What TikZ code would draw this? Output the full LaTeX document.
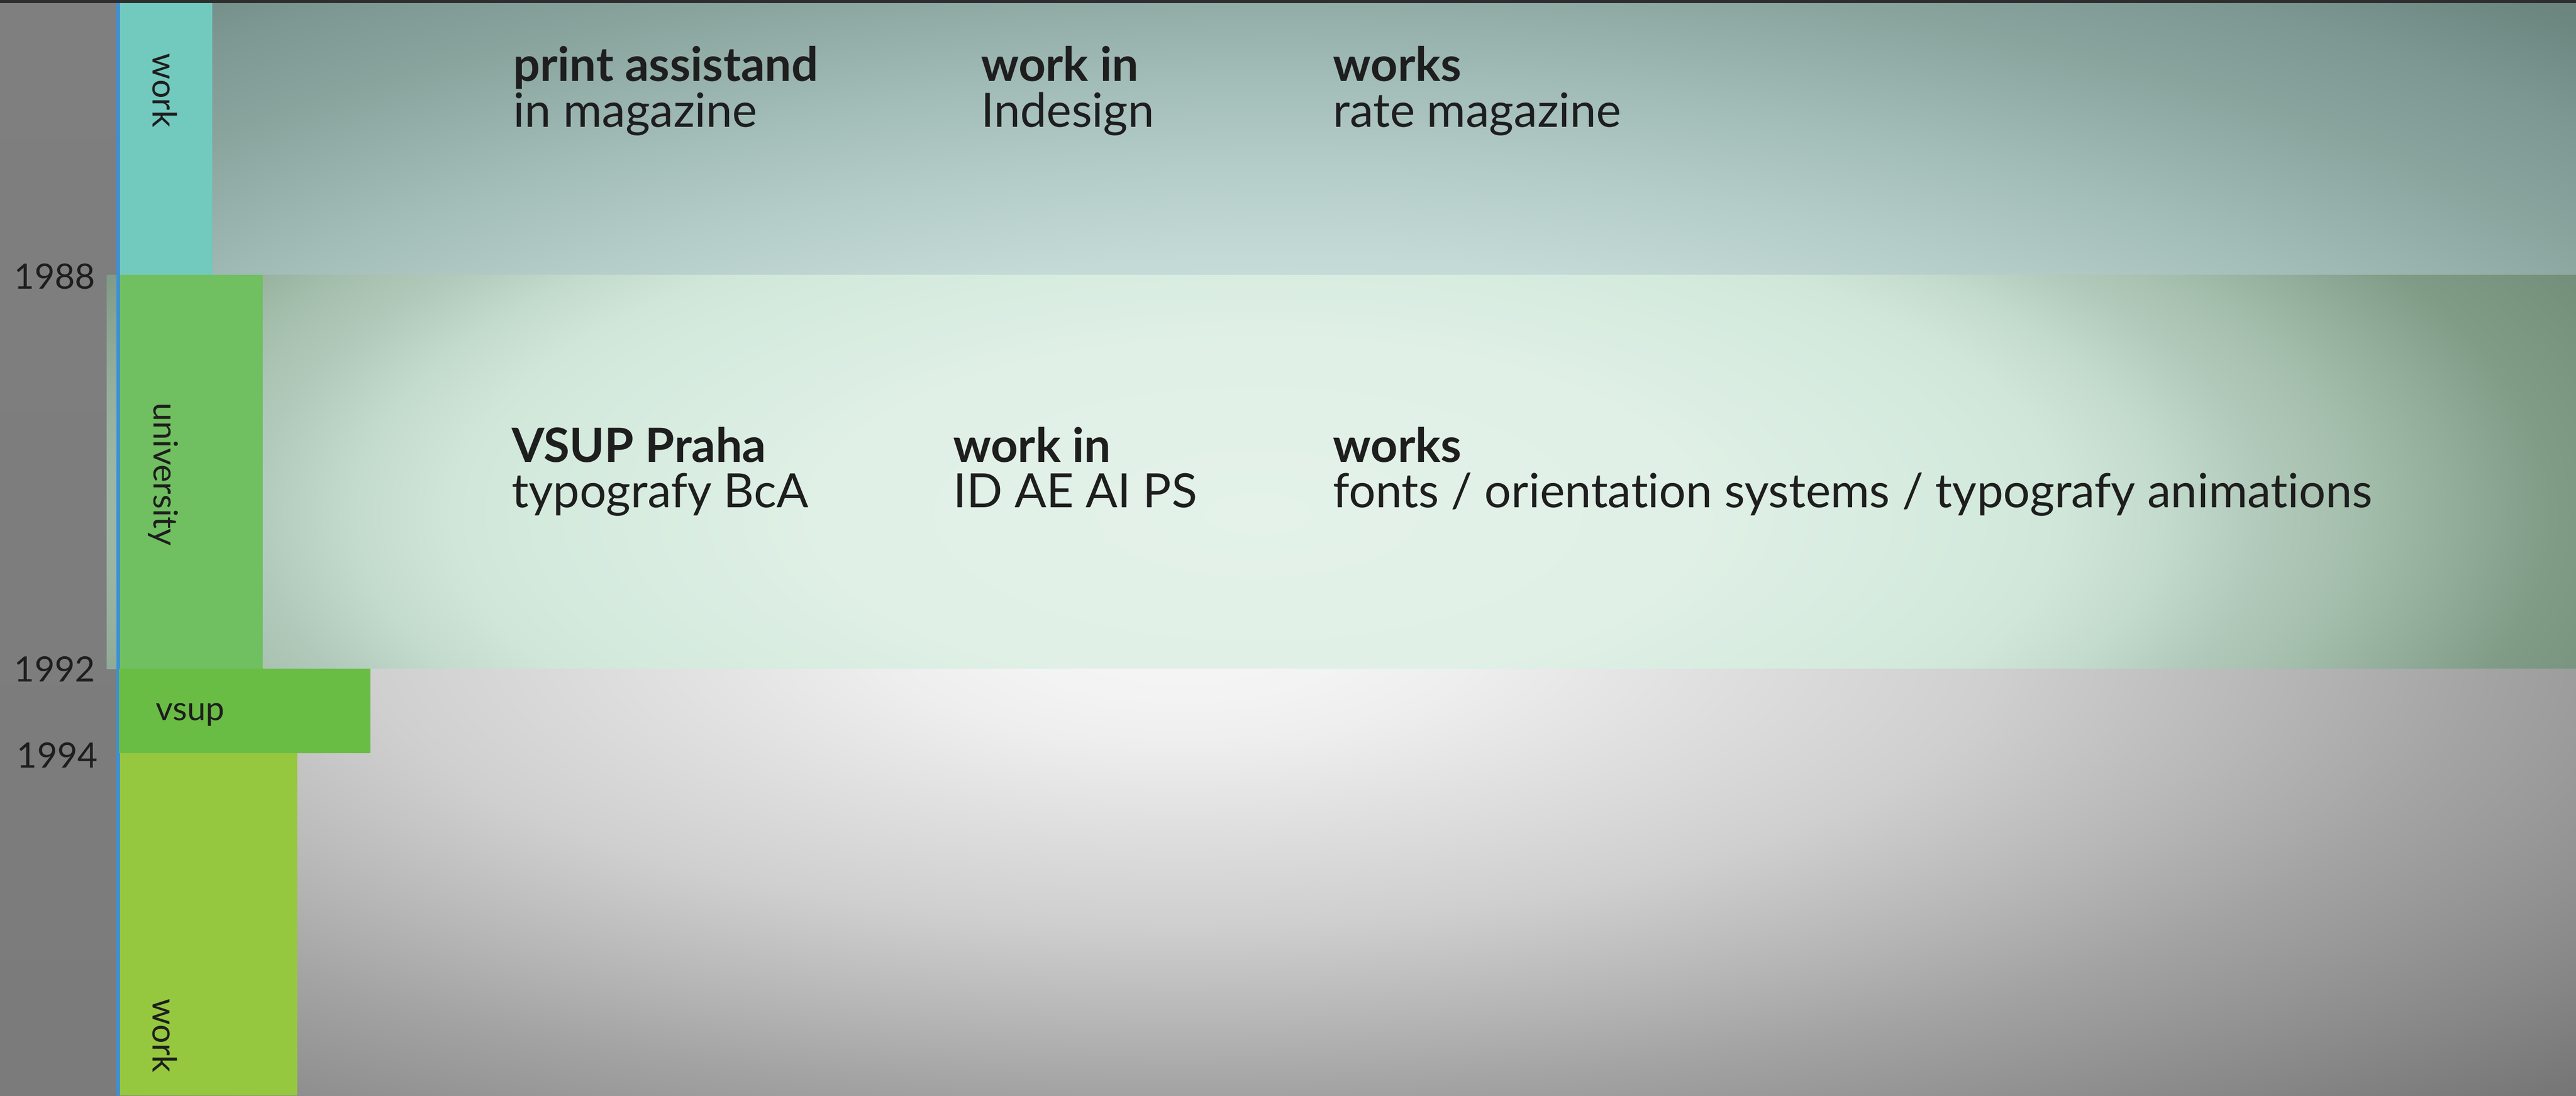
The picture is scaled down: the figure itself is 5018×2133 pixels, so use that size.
\documentclass[tikz,border=0pt]{standalone}
\usepackage{fontspec}
\setmainfont{Lato}[Ligatures={NoCommon}]
\definecolor{bo0}{HTML}{F6F5F6}\definecolor{bo1}{HTML}{F3F3F3}\definecolor{bo2}{HTML}{EEEEEE}
\definecolor{bo3}{HTML}{E0E0E0}\definecolor{bo4}{HTML}{CFCFCF}\definecolor{bo5}{HTML}{B5B5B5}
\definecolor{bo6}{HTML}{A3A3A3}\definecolor{bo7}{HTML}{8A8A8A}\definecolor{bo8}{HTML}{777777}
\definecolor{bo9}{HTML}{555555}
\definecolor{tp0}{HTML}{D0E4E2}\definecolor{tp1}{HTML}{CADFDC}\definecolor{tp2}{HTML}{C3DAD7}
\definecolor{tp3}{HTML}{B4CCC8}\definecolor{tp4}{HTML}{A2BCB7}\definecolor{tp5}{HTML}{89A39D}
\definecolor{tp6}{HTML}{7D9892}\definecolor{tp7}{HTML}{6D8781}\definecolor{tp8}{HTML}{627A75}
\definecolor{un0}{HTML}{E4F2E9}\definecolor{un1}{HTML}{E0F0E6}\definecolor{un2}{HTML}{D4EADD}
\definecolor{un3}{HTML}{CFE6D9}\definecolor{un4}{HTML}{C3DBCD}\definecolor{un5}{HTML}{B1C9BA}
\definecolor{un6}{HTML}{A3BDAB}\definecolor{un7}{HTML}{809C87}\definecolor{un8}{HTML}{6E8A75}
\definecolor{un9}{HTML}{506A58}
\definecolor{mtop}{HTML}{7F7F7F}\definecolor{mmid}{HTML}{A3A3A3}\definecolor{mbot}{HTML}{7B7B7B}
\definecolor{tealbar}{HTML}{72C9BD}\definecolor{unibar}{HTML}{70BF60}
\definecolor{vsupbar}{HTML}{6ABD44}\definecolor{workbar}{HTML}{95C83F}
\definecolor{bluel}{HTML}{3E8FD5}\definecolor{topstrip}{HTML}{2E2E2E}
\definecolor{ink}{HTML}{1E1E1E}
\pgfdeclareradialshading{botshade}{\pgfpoint{0bp}{0bp}}{color(0bp)=(bo0); color(1.5625bp)=(bo1); color(2.8125bp)=(bo2); color(5bp)=(bo3); color(7.8125bp)=(bo4); color(10.625bp)=(bo5); color(12.5bp)=(bo6); color(15.625bp)=(bo7); color(17.97bp)=(bo8); color(25bp)=(bo9); color(50bp)=(bo9)}
\pgfdeclareradialshading{topshade}{\pgfpoint{0bp}{0bp}}{color(0bp)=(tp0); color(7.8125bp)=(tp1); color(10.625bp)=(tp2); color(13.28bp)=(tp3); color(15.625bp)=(tp4); color(18.75bp)=(tp5); color(20.78bp)=(tp6); color(22.66bp)=(tp7); color(25bp)=(tp8); color(50bp)=(tp8)}
\pgfdeclareradialshading{unishade}{\pgfpoint{0bp}{0bp}}{color(0bp)=(un0); color(4.6875bp)=(un1); color(7.8125bp)=(un2); color(8.75bp)=(un3); color(9.84bp)=(un4); color(10.94bp)=(un5); color(12.03bp)=(un6); color(14.06bp)=(un7); color(16.41bp)=(un8); color(25bp)=(un9); color(50bp)=(un9)}
\begin{document}
\begin{tikzpicture}[x=0.1pt,y=-0.1pt,
  txt/.style={anchor=base west, inner sep=0pt, outer sep=0pt, text=ink, font=\fontsize{9.2}{9.2}\selectfont},
  head/.style={txt, font=\fontsize{9.2}{9.2}\selectfont\bfseries},
  year/.style={anchor=base west, inner sep=0pt, outer sep=0pt, text=ink, font=\fontsize{6.8}{6.8}\selectfont},
  lbl/.style={anchor=base west, inner sep=0pt, outer sep=0pt, text=ink, font=\fontsize{6.5}{6.5}\selectfont},
  vlbl/.style={lbl, rotate=-90}]
\useasboundingbox (0,0) rectangle (5018,2133);
% left margin
\shade[top color=mtop, middle color=mmid, bottom color=mbot] (0,0) rectangle (230,2133);
% top band
\begin{scope}
\clip (230,0) rectangle (5018,535);
\shade[shading=topshade] (2500,1250) ellipse [x radius=4160, y radius=1760];
\end{scope}
% university band
\begin{scope}
\clip (208,535) rectangle (5018,1302);
\shade[shading=unishade] (2450,1000) ellipse [x radius=4480, y radius=1760];
\end{scope}
% bottom area
\begin{scope}
\clip (230,1302) rectangle (5018,2133);
\shade[shading=botshade] (2300,1250) ellipse [x radius=5120, y radius=1760];
\end{scope}
% blue time line
\fill[bluel] (227,0) rectangle (235,2133);
% bars
\fill[tealbar] (234,0) rectangle (413,535);
\fill[unibar] (234,535) rectangle (512,1302);
\fill[vsupbar] (232,1302) rectangle (722,1466);
\fill[workbar] (234,1466) rectangle (579,2133);
% top strip
\fill[topstrip] (0,0) rectangle (5018,6);
% years
\node[year] (y1988) at (28,562) {1988};
\node[year] (y1992) at (28,1327) {1992};
\node[year] (y1994) at (33,1495) {1994};
% bar labels
\node[vlbl] (lwork1) at (298,104) {work};
\node[vlbl] (luni) at (300,784) {university};
\node[lbl] (lvsup) at (304,1402) {vsup};
\node[vlbl] (lwork2) at (298,1944) {work};
% top band texts
\node[head] (t1a) at (1000,158) {print assistand};
\node[txt] (t1b) at (1000,247) {in magazine};
\node[head] (t2a) at (1911,158) {work in};
\node[txt] (t2b) at (1911,247) {Indesign};
\node[head] (t3a) at (2597,158) {works};
\node[txt] (t3b) at (2597,247) {rate magazine};
% university band texts
\node[head] (u1a) at (997,900) {VSUP Praha};
\node[txt] (u1b) at (997,988) {typografy BcA};
\node[head] (u2a) at (1857,900) {work in};
\node[txt] (u2b) at (1857,988) {ID AE AI PS};
\node[head] (u3a) at (2597,900) {works};
\node[txt] (u3b) at (2597,988) {fonts / orientation systems / typografy animations};
\end{tikzpicture}
\end{document}
